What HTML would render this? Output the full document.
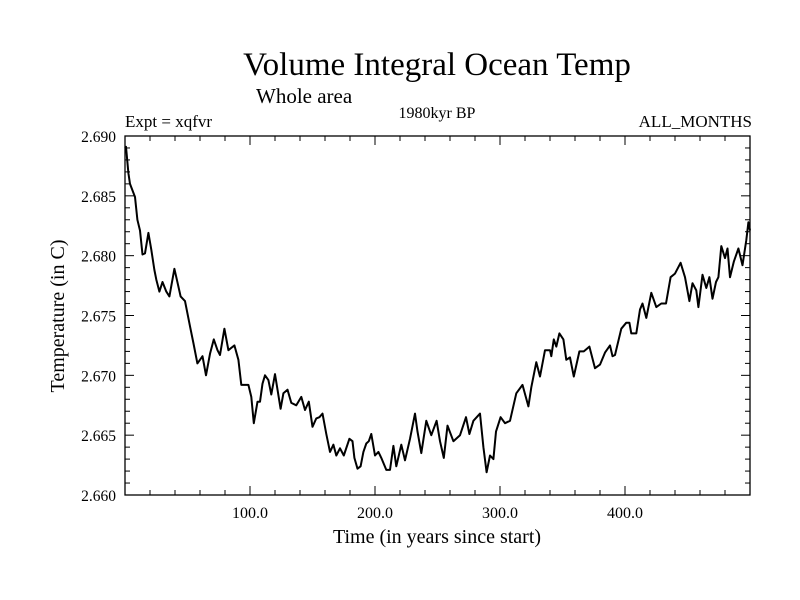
<!DOCTYPE html>
<html><head><meta charset="utf-8"><style>
body{margin:0;background:#fff;}
svg{display:block;font-family:"Liberation Serif",serif;}
</style></head><body>
<svg id="chart" width="800" height="600" xmlns="http://www.w3.org/2000/svg">
<rect width="800" height="600" fill="#fff"/>
<text x="437" y="75" font-size="33" text-anchor="middle">Volume Integral Ocean Temp</text>
<text x="256" y="103" font-size="21">Whole area</text>
<text x="125" y="127" font-size="17">Expt = xqfvr</text>
<text x="437" y="118" font-size="16" text-anchor="middle">1980kyr BP</text>
<text x="752" y="127" font-size="17" text-anchor="end">ALL_MONTHS</text>
<text x="437" y="543" font-size="20" text-anchor="middle">Time (in years since start)</text>
<text transform="translate(64,316) rotate(-90)" font-size="20" text-anchor="middle">Temperature (in C)</text>
<g id="axes"></g>
<path id="series" fill="none" stroke="#000" stroke-width="2" stroke-linejoin="round"/>
</svg>
<script>
const years=[0,0.8,2.7,4,8,9.9,12,14,16,18.7,21,23.5,25,27.5,30,33,35.5,39.5,41,44.5,48,52,54.7,57.9,60,62,64.8,68,71,74,76,79.5,82.7,87.5,90.7,93,98.7,101,103,106,108,110,112,114.7,117,120,124.5,126.7,130,133,137,141,144,147,150,153,155.5,158,161,164,166.7,169,172,175,179.5,182,183.5,186,188.5,190.7,193,195,197,200,202.7,205,209,212,214.7,217,221,224,228,232,234,237,241,245,249.3,252,255,258,262.7,268,272.8,275.5,278.7,284,286.7,289.3,292,294.7,296.8,300.5,304,308,313,318,322.7,325,329,332,336,340,341,343,345,347.5,350.7,353,356,359,363.5,367,371.5,376,380,384,388,390,392,397,401,403.5,405,409,412,414,417,421,425,429,432.8,436.5,440,444.5,448,451.5,454,457,458.7,462,465,467.5,470,472.8,474.7,477,480,482,484,487,490.7,494,497,498.7,500];
const temps=[2.6890,2.6891,2.6869,2.6860,2.6849,2.6830,2.6821,2.6801,2.6802,2.6819,2.6805,2.6788,2.6780,2.6770,2.6778,2.6770,2.6766,2.6789,2.6782,2.6766,2.6762,2.6741,2.6727,2.6710,2.6713,2.6716,2.6700,2.6718,2.6730,2.6721,2.6717,2.6739,2.6721,2.6725,2.6713,2.6692,2.6692,2.6682,2.6660,2.6678,2.6678,2.6693,2.6700,2.6696,2.6684,2.6701,2.6672,2.6685,2.6688,2.6677,2.6675,2.6682,2.6671,2.6678,2.6657,2.6664,2.6665,2.6668,2.6651,2.6636,2.6642,2.6633,2.6639,2.6633,2.6647,2.6645,2.6631,2.6622,2.6624,2.6636,2.6643,2.6645,2.6651,2.6633,2.6636,2.6631,2.6621,2.6621,2.6641,2.6624,2.6642,2.6629,2.6647,2.6668,2.6653,2.6635,2.6662,2.6650,2.6662,2.6645,2.6631,2.6658,2.6645,2.6650,2.6665,2.6651,2.6662,2.6668,2.6640,2.6619,2.6633,2.6630,2.6653,2.6665,2.6660,2.6662,2.6685,2.6692,2.6674,2.6690,2.6711,2.6699,2.6721,2.6721,2.6716,2.6730,2.6724,2.6735,2.6730,2.6713,2.6715,2.6699,2.6720,2.6720,2.6724,2.6706,2.6709,2.6719,2.6725,2.6716,2.6717,2.6739,2.6744,2.6744,2.6735,2.6735,2.6755,2.6760,2.6748,2.6769,2.6757,2.6760,2.6760,2.6782,2.6785,2.6794,2.6782,2.6762,2.6777,2.6771,2.6757,2.6784,2.6773,2.6782,2.6764,2.6778,2.6782,2.6808,2.6798,2.6806,2.6782,2.6795,2.6806,2.6792,2.6813,2.6828,2.6821];
const xTickValues=[100,200,300,400];
const xTickLabels=["100.0","200.0","300.0","400.0"];
const yTickValues=[2.660,2.665,2.670,2.675,2.680,2.685,2.690];
const yTickLabels=["2.660","2.665","2.670","2.675","2.680","2.685","2.690"];

const L=125,R=750,T=136,B=495,X0=0,X1=500,Y0=2.660,Y1=2.690;
function xs(v){return L+(v-X0)/(X1-X0)*(R-L);}
function ys(v){return B-(v-Y0)/(Y1-Y0)*(B-T);}
const NS="http://www.w3.org/2000/svg";
const g=document.getElementById('axes');
function mk(tag,attrs){const e=document.createElementNS(NS,tag);for(const k in attrs)e.setAttribute(k,attrs[k]);g.appendChild(e);return e;}
const frame=mk('rect',{x:L,y:T,width:R-L,height:B-T,fill:'none',stroke:'#000','stroke-width':1.3});


// minor x ticks every 20 years
for(let v=20;v<X1;v+=20){const major=v%100===0;const len=major?9:5;
 const a=mk('line',{x1:xs(v),x2:xs(v),y1:B,y2:B-len,stroke:'#000','stroke-width':1});
 
 
 const b=mk('line',{x1:xs(v),x2:xs(v),y1:T,y2:T+len,stroke:'#000','stroke-width':1});
 
 }
for(let i=1;i<30;i++){const v=Y0+i*0.001;const major=i%5===0;const len=major?9:5;
 const a=mk('line',{x1:L,x2:L+len,y1:ys(v),y2:ys(v),stroke:'#000','stroke-width':1});
 
 
 const b=mk('line',{x1:R,x2:R-len,y1:ys(v),y2:ys(v),stroke:'#000','stroke-width':1});
 
 }
xTickValues.forEach((v,i)=>{const t=mk('text',{x:xs(v),y:B+23,'font-size':16,'text-anchor':'middle'});t.textContent=xTickLabels[i];
 
 });
yTickValues.forEach((v,i)=>{const t=mk('text',{x:116,y:ys(v)+6,'font-size':15.5,'text-anchor':'end'});t.textContent=yTickLabels[i];
 
 });
document.getElementById('series').setAttribute('d',years.map((y,i)=>(i?'L':'M')+xs(y).toFixed(1)+' '+ys(temps[i]).toFixed(1)).join(' '));
</script>
</body></html>
